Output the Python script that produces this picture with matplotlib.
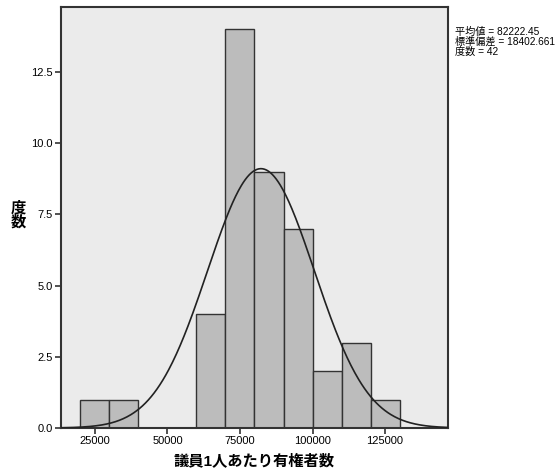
import matplotlib
matplotlib.use("Agg")
import matplotlib.pyplot as plt
import numpy as np

plt.rcParams['font.family'] = ['Liberation Sans', 'Noto Sans CJK JP', 'DejaVu Sans']

# histogram bins (lower edges) and counts
bin_left = [20000, 30000, 60000, 70000, 80000, 90000, 100000, 110000, 120000]
counts = [1, 1, 4, 14, 9, 7, 2, 3, 1]
bin_width = 10000

mean_val = 82222.45
sd_val = 18402.661
n_val = 42

xticks = [25000, 50000, 75000, 100000, 125000]
yticks = [0.0, 2.5, 5.0, 7.5, 10.0, 12.5]

fig = plt.figure(figsize=(5.57, 4.71), dpi=100)
ax = fig.add_axes([0.1095, 0.0913, 0.6948, 0.8938])
ax.set_facecolor('#ebebeb')

ax.bar(bin_left, counts, width=bin_width, align='edge',
       color='#bcbcbc', edgecolor='#333333', linewidth=1.0, zorder=2)

# fitted normal curve from the reported mean / sd
x = np.linspace(13300, 146700, 400)
y = n_val * bin_width * np.exp(-0.5 * ((x - mean_val) / sd_val) ** 2) / (sd_val * np.sqrt(2 * np.pi))
ax.plot(x, y, color='#222222', linewidth=1.2, zorder=3)

ax.set_xlim(13300, 146700)
ax.set_ylim(0, 14.78)
ax.set_xticks(xticks)
ax.set_xticklabels([str(t) for t in xticks])
ax.set_yticks(yticks)
ax.set_yticklabels(['%.1f' % t for t in yticks])
ax.tick_params(direction='out', length=4, width=1.2, color='#333333', labelsize=8, pad=2)

for s in ax.spines.values():
    s.set_color('#333333')
    s.set_linewidth(1.5)

ax.set_xlabel('議員1人あたり有権者数', fontsize=11, fontweight='bold', labelpad=5)
ax.set_ylabel('度\n数', fontsize=11, fontweight='bold', rotation=0, va='center', ha='center', linespacing=1.0)
ax.yaxis.set_label_coords(-0.111, 0.505)

fig.text(0.817, 0.942, '平均値 = %.2f\n標準偏差 = %.3f\n度数 = %d' % (mean_val, sd_val, n_val),
         fontsize=7.3, va='top', ha='left', linespacing=0.95)

fig.savefig('out.png', dpi=100)
